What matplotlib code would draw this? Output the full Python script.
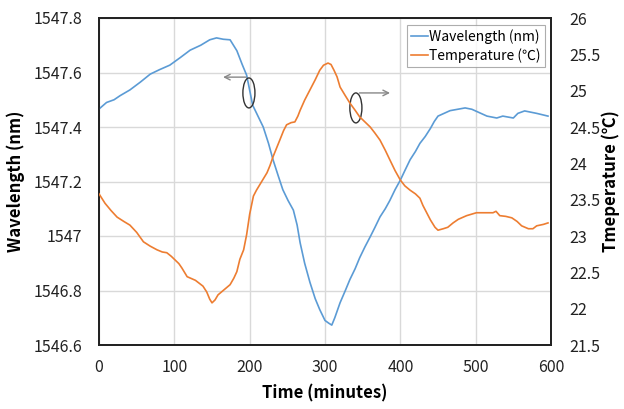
import matplotlib
matplotlib.use("Agg")
import matplotlib.pyplot as plt
from matplotlib.patches import Ellipse

plt.rcParams['font.family'] = ['Noto Sans CJK KR', 'DejaVu Sans']

# ---- data ----
time_wl = [0, 10, 20, 28, 41, 55, 68, 80, 94, 108, 121, 135, 147, 156, 165, 174, 183, 190,
           196, 204, 211, 218, 225, 231, 238, 244, 251, 258, 263, 267, 273, 280, 287, 293,
           300, 305, 309, 313, 320, 327, 333, 340, 346, 353, 360, 366, 373, 380, 386, 393,
           400, 406, 413, 420, 426, 433, 440, 445, 450, 458, 466, 476, 486, 495, 503, 515,
           528, 536, 550, 556, 565, 581, 596]
wavelength = [1547.466, 1547.49, 1547.50, 1547.515, 1547.536, 1547.565, 1547.594, 1547.61,
              1547.627, 1547.655, 1547.682, 1547.70, 1547.72, 1547.727, 1547.722, 1547.72,
              1547.68, 1547.63, 1547.59, 1547.48, 1547.44, 1547.40, 1547.34, 1547.28, 1547.22,
              1547.17, 1547.13, 1547.095, 1547.04, 1546.975, 1546.90, 1546.83, 1546.77,
              1546.73, 1546.69, 1546.68, 1546.673, 1546.70, 1546.755, 1546.80, 1546.84,
              1546.88, 1546.92, 1546.96, 1546.997, 1547.03, 1547.07, 1547.10, 1547.13,
              1547.17, 1547.205, 1547.24, 1547.28, 1547.31, 1547.34, 1547.365, 1547.395,
              1547.42, 1547.44, 1547.45, 1547.46, 1547.465, 1547.47, 1547.465, 1547.455,
              1547.44, 1547.433, 1547.44, 1547.433, 1547.45, 1547.459, 1547.45, 1547.44]

time_t = [0, 8, 16, 24, 33, 41, 50, 59, 68, 77, 84, 90, 96, 101, 106, 110, 117, 128, 138,
          143, 147, 150, 154, 158, 166, 174, 179, 183, 187, 192, 196, 200, 205, 209, 216,
          223, 227, 231, 240, 245, 249, 255, 260, 264, 267, 273, 280, 287, 293, 298, 304,
          308, 312, 316, 320, 327, 333, 340, 346, 353, 360, 366, 373, 380, 386, 393, 400,
          406, 413, 420, 426, 430, 435, 440, 446, 450, 457, 463, 470, 477, 488, 501, 512,
          523, 527, 532, 540, 548, 555, 561, 570, 576, 581, 590, 596]
temperature = [23.58, 23.45, 23.35, 23.26, 23.2, 23.15, 23.05, 22.92, 22.86, 22.81, 22.78,
               22.77, 22.72, 22.67, 22.62, 22.56, 22.44, 22.39, 22.31, 22.23, 22.13, 22.08,
               22.12, 22.19, 22.26, 22.33, 22.42, 22.51, 22.68, 22.81, 23.02, 23.3, 23.55,
               23.63, 23.75, 23.87, 23.97, 24.09, 24.32, 24.45, 24.53, 24.56, 24.57, 24.65,
               24.73, 24.87, 25.01, 25.15, 25.28, 25.35, 25.38, 25.36, 25.28, 25.19, 25.05,
               24.93, 24.83, 24.73, 24.64, 24.57, 24.5, 24.42, 24.32, 24.18, 24.05, 23.9,
               23.77, 23.69, 23.63, 23.58, 23.52, 23.42, 23.32, 23.22, 23.12, 23.08, 23.1,
               23.12, 23.18, 23.23, 23.28, 23.32, 23.32, 23.32, 23.34, 23.28, 23.27, 23.25,
               23.2, 23.14, 23.1, 23.1, 23.14, 23.16, 23.18]

x_ticks = [0, 100, 200, 300, 400, 500, 600]
wl_ticks = [1546.6, 1546.8, 1547.0, 1547.2, 1547.4, 1547.6, 1547.8]
wl_ticklabels = ["1546.6", "1546.8", "1547", "1547.2", "1547.4", "1547.6", "1547.8"]
t_ticks = [21.5, 22, 22.5, 23, 23.5, 24, 24.5, 25, 25.5, 26]
t_ticklabels = ["21.5", "22", "22.5", "23", "23.5", "24", "24.5", "25", "25.5", "26"]

blue = "#5B9BD5"
orange = "#ED7D31"

fig = plt.figure(figsize=(6.24, 4.09), dpi=100)
ax = fig.add_axes([99/624, 1-345/409, (551-99)/624, (345-18)/409])
ax2 = ax.twinx()

l1, = ax.plot(time_wl, wavelength, color=blue, lw=1.2, label="Wavelength (nm)", zorder=3)
l2, = ax2.plot(time_t, temperature, color=orange, lw=1.2, label="Temperature (\u2103)", zorder=3)

ax.set_xlim(0, 600)
ax.set_ylim(1546.6, 1547.8)
ax2.set_ylim(21.5, 26)
ax.set_xticks(x_ticks)
ax.set_xticklabels([str(v) for v in x_ticks])
ax.set_yticks(wl_ticks)
ax.set_yticklabels(wl_ticklabels)
ax2.set_yticks(t_ticks)
ax2.set_yticklabels(t_ticklabels)

ax.grid(True, color="#d9d9d9", lw=1.0)
ax.set_axisbelow(True)
for a in (ax, ax2):
    a.tick_params(length=0, labelsize=11.5, colors="#222222")
    for s in a.spines.values():
        s.set_linewidth(1.3)
        s.set_color("#222222")
ax.tick_params(axis='y', pad=12)
ax.tick_params(axis='x', pad=10)
ax2.tick_params(axis='y', pad=13)

ax.set_xlabel("Time (minutes)", fontsize=12, fontweight="bold", labelpad=6)
ax.set_ylabel("Wavelength (nm)", fontsize=12, fontweight="bold", labelpad=6)
ax2.set_ylabel("Tmeperature (\u2103)", fontsize=12, fontweight="bold", labelpad=1)

# annotations: ellipses and arrows
e1 = Ellipse((199, 1547.525), 16, 0.11, fill=False, edgecolor="#333333", lw=1.0, zorder=4)
e2 = Ellipse((341, 1547.47), 16, 0.11, fill=False, edgecolor="#333333", lw=1.0, zorder=4)
ax.add_patch(e1)
ax.add_patch(e2)
ax.annotate("", xy=(161, 1547.583), xytext=(199, 1547.583),
            arrowprops=dict(arrowstyle="->", color="#888888", lw=1.0))
ax.annotate("", xy=(390, 1547.525), xytext=(342, 1547.525),
            arrowprops=dict(arrowstyle="->", color="#888888", lw=1.0))

leg = ax.legend(handles=[l1, l2], loc="upper right", fontsize=10, frameon=True,
                fancybox=False, edgecolor="#999999", handlelength=1.2, handletextpad=0.1,
                borderpad=0.3, labelspacing=0.3, borderaxespad=0,
                bbox_to_anchor=(0.987, 0.979))
leg.get_frame().set_linewidth(0.8)
leg.set_zorder(5)

fig.savefig("out.png", dpi=100)
